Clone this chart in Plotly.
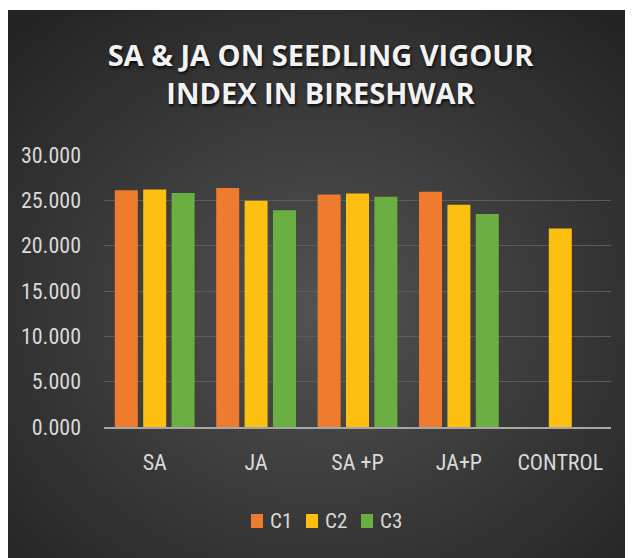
import base64
import plotly.graph_objects as go

categories = ["SA", "JA", "SA +P", "JA+P", "CONTROL"]
c1 = [26.10, 26.35, 25.65, 25.95, None]
c2 = [26.20, 24.95, 25.75, 24.50, 21.90]
c3 = [25.80, 23.90, 25.40, 23.50, None]
series_names = ["C1", "C2", "C3"]
series_colors = ["#EF7B2E", "#FDC011", "#6BAE41"]
y_ticks = [0, 5, 10, 15, 20, 25, 30]
y_labels = ["0.000", "5.000", "10.000", "15.000", "20.000", "25.000", "30.000"]

# page body has an 8px margin, so the figure is 8px smaller than the window
OFF = 8
W, H = 625, 550
ML, MR, MT, MB = 96, 22, 147, 131
PW, PH = W - ML - MR, H - MT - MB

FONT = "Liberation Sans Narrow, Roboto Condensed, Open Sans, sans-serif"
TITLE_FONT = "Open Sans, Noto Sans, sans-serif"


def px_x(sx):
    return (sx - OFF - ML) / PW


def px_y(sy):
    return (H - MB - (sy - OFF)) / PH


svg = """<svg xmlns='http://www.w3.org/2000/svg' width='625' height='548'>
<defs><radialGradient id='g' cx='50%' cy='55%' r='70%'>
<stop offset='0%' stop-color='#525252'/>
<stop offset='100%' stop-color='#242424'/>
</radialGradient></defs>
<rect width='625' height='548' fill='url(#g)'/>
</svg>"""
bg_uri = "data:image/svg+xml;base64," + base64.b64encode(svg.encode()).decode()

fig = go.Figure()
for name, vals, col in zip(series_names, [c1, c2, c3], series_colors):
    fig.add_trace(go.Bar(
        x=categories, y=vals, name=name, showlegend=False,
        marker=dict(color=col, line=dict(width=0)),
    ))

fig.add_layout_image(dict(
    source=bg_uri, xref="paper", yref="paper",
    x=-ML / PW, y=(H - MB - 2) / PH,
    sizex=W / PW, sizey=(H - 2) / PH,
    xanchor="left", yanchor="top", sizing="stretch", layer="below",
))

# custom legend (square + label per series)
leg_x0, leg_step, sq_w, leg_top, leg_bot = 251, 55, 12, 514, 528
for i, (name, col) in enumerate(zip(series_names, series_colors)):
    sx = leg_x0 + i * leg_step
    fig.add_shape(type="rect", xref="paper", yref="paper",
                  x0=px_x(sx), x1=px_x(sx + sq_w), y0=px_y(leg_bot), y1=px_y(leg_top),
                  fillcolor=col, line=dict(width=0), layer="above")
    fig.add_annotation(text=name, xref="paper", yref="paper",
                       x=px_x(sx + sq_w + 5), y=px_y((leg_top + leg_bot) / 2),
                       xanchor="left", yanchor="middle", showarrow=False,
                       font=dict(family=FONT, size=21, color="#D9D9D9"))

fig.update_layout(
    width=W, height=H,
    margin=dict(l=ML, r=MR, t=MT, b=MB, autoexpand=False),
    paper_bgcolor="white",
    plot_bgcolor="rgba(0,0,0,0)",
    barmode="group", bargap=0.16, bargroupgap=0.19,
    title=dict(
        text="SA & JA ON SEEDLING VIGOUR<br>INDEX IN BIRESHWAR",
        x=0.5, xref="container", xanchor="center",
        y=(H - 58) / H, yanchor="middle", yref="container",
        font=dict(family=TITLE_FONT, size=29, color="#F2F2F2", weight="bold",
                  shadow="1px 2px 3px rgba(0,0,0,0.8)"),
    ),
    showlegend=False,
    font=dict(family=FONT, color="#D9D9D9"),
)
fig.update_xaxes(
    showgrid=False, showline=True, linecolor="#A6A6A6", linewidth=2,
    tickfont=dict(family=FONT, size=22, color="#D9D9D9"),
    ticks="", ticklabelstandoff=15,
)
fig.update_yaxes(
    range=[0, 30], tickvals=y_ticks, ticktext=y_labels,
    showgrid=True, gridcolor="#5C5C5C", gridwidth=1,
    zeroline=False, showline=False,
    tickfont=dict(family=FONT, size=22, color="#D9D9D9"),
    ticks="", ticklabelstandoff=22,
)

fig.write_html("out.html")
